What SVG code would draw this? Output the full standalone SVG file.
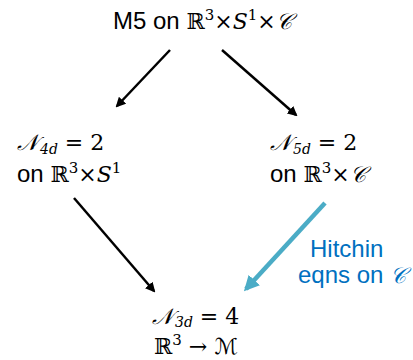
<svg xmlns="http://www.w3.org/2000/svg" width="413" height="360" viewBox="0 0 413 360">
<defs>
<style>
.t{font-family:"Liberation Sans",Arial,sans-serif;font-size:24px;fill:#000}
.m{font-family:"DejaVu Serif","DejaVu Sans",serif;font-size:22px}
.mi{font-family:"DejaVu Serif","DejaVu Sans",serif;font-style:italic;font-size:22px}
.s{font-size:15px}
.sb{font-size:14px}
.h{font-family:"Liberation Sans",Arial,sans-serif;font-size:24px;fill:#0070C0}
.c{stroke:#000;stroke-width:2.5;fill:none}
.b{stroke:#4BACC6;stroke-width:4.5;fill:none}
</style>
<marker id="ak" viewBox="0 0 10 10" refX="8" refY="5" markerWidth="4" markerHeight="4" orient="auto" markerUnits="strokeWidth">
<path d="M0,0 L10,5 L0,10 Z" fill="#000"/>
</marker>
<marker id="ab" viewBox="0 0 10 10" refX="8" refY="5" markerWidth="3.4" markerHeight="3.4" orient="auto" markerUnits="strokeWidth">
<path d="M0,0 L10,5 L0,10 Z" fill="#4BACC6"/>
</marker>
</defs>
<rect width="413" height="360" fill="#fff"/>
<g id="connectors">
<line class="c" x1="170" y1="50" x2="117" y2="106" marker-end="url(#ak)"/>
<line class="c" x1="222" y1="50" x2="296" y2="115" marker-end="url(#ak)"/>
<line class="c" x1="74" y1="198" x2="154" y2="291" marker-end="url(#ak)"/>
<line class="b" x1="325" y1="203" x2="246" y2="289" marker-end="url(#ab)"/>
</g>
<g id="top">
<text class="t" x="113" y="29">M5 on <tspan class="m">ℝ</tspan><tspan class="m s" dy="-9">3</tspan><tspan class="m" dy="9">×</tspan><tspan class="mi">S</tspan><tspan class="m s" dy="-9">1</tspan><tspan class="m" dy="9">×</tspan><tspan class="mi">𝒞</tspan></text>
</g>
<g id="n4d">
<text class="t" x="17" y="150"><tspan class="mi">𝒩</tspan><tspan class="mi sb" dx="2" dy="4">4d</tspan><tspan class="m" dy="-4"> = 2</tspan></text>
<text class="t" x="17" y="182">on <tspan class="m">ℝ</tspan><tspan class="m s" dy="-9">3</tspan><tspan class="m" dy="9">×</tspan><tspan class="mi">S</tspan><tspan class="m s" dy="-9">1</tspan></text>
</g>
<g id="n5d">
<text class="t" x="270" y="150"><tspan class="mi">𝒩</tspan><tspan class="mi sb" dx="2" dy="4">5d</tspan><tspan class="m" dy="-4"> = 2</tspan></text>
<text class="t" x="270" y="182">on <tspan class="m">ℝ</tspan><tspan class="m s" dy="-9">3</tspan><tspan class="m" dy="9">×</tspan><tspan class="mi">𝒞</tspan></text>
</g>
<g id="n3d">
<text class="t" x="152" y="324"><tspan class="mi">𝒩</tspan><tspan class="mi sb" dx="2" dy="3">3d</tspan><tspan class="m" dy="-3"> = 4</tspan></text>
<text class="t" x="154" y="354"><tspan class="m">ℝ</tspan><tspan class="m s" dy="-9">3</tspan><tspan class="m" dy="9"> → </tspan><tspan class="mi">ℳ</tspan></text>
</g>
<g id="hitchin">
<text class="h" x="310" y="257">Hitchin</text>
<text class="h" x="298" y="283">eqns on <tspan class="mi">𝒞</tspan></text>
</g>
</svg>
